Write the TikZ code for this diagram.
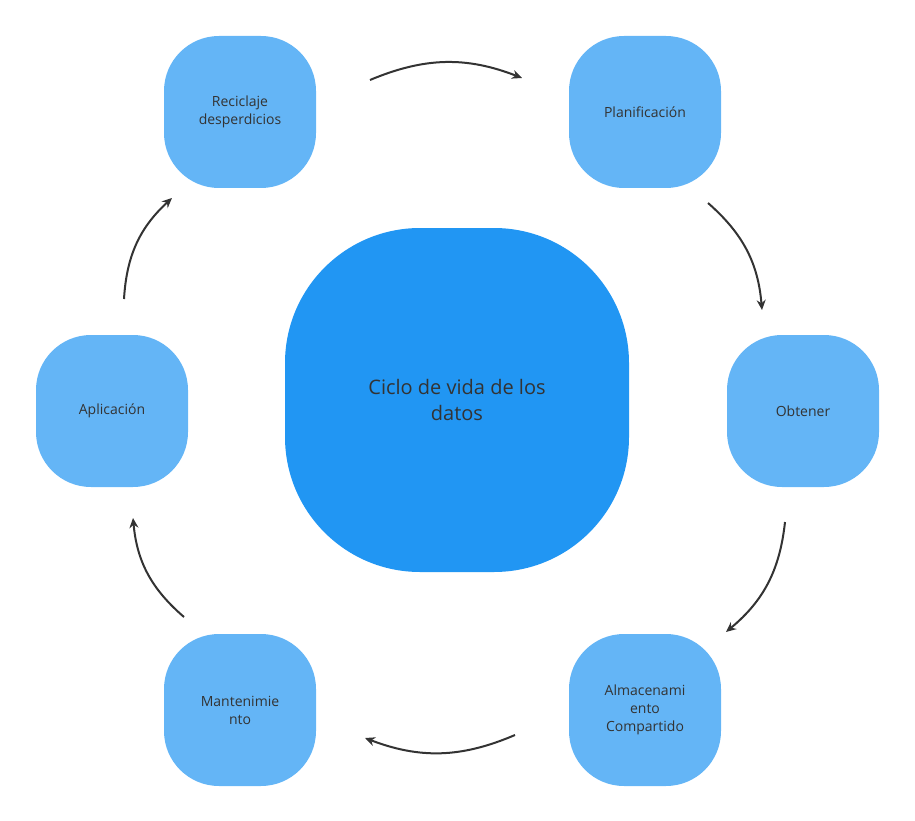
\documentclass[tikz,border=0pt]{standalone}
\usepackage{fontspec}
\setmainfont{Open Sans}
\usetikzlibrary{arrows.meta}
\definecolor{stepblue}{HTML}{64B5F6}
\definecolor{coreblue}{HTML}{2196F3}
\definecolor{arrowgray}{HTML}{333333}
\tikzset{
  phase/.style={
      fill=stepblue,
      rounded corners=55pt,
      minimum width=152pt,
      minimum height=152pt,
      align=center,
      text=arrowgray,
      font=\fontsize{14}{18}\selectfont
  },
  core/.style={
      phase,
      fill=coreblue,
      rounded corners=135pt,
      minimum width=344pt,
      minimum height=344pt,
      font=\fontsize{20}{26}\selectfont
  },
  flow/.style={
      draw=arrowgray,
      line width=2pt,
      -{Stealth[length=10pt,width=9pt]},
      bend left=22
  }
}
\begin{document}
\begin{tikzpicture}[x=1pt,y=-1pt]
\useasboundingbox (0,0) rectangle (915,821);
\node[core] (ciclo) at (457,400) {Ciclo de vida de los\\datos};
\node[phase] (reciclaje) at (240,112) {Reciclaje\\desperdicios};
\node[phase] (planif) at (645,112) {Planificación};
\node[phase] (obtener) at (803,411) {Obtener};
\node[phase] (almacen) at (645,710) {Almacenami\\ento\\Compartido};
\node[phase] (manten) at (240,710) {Mantenimie\\nto};
\node[phase] (aplic) at (112,411) {Aplicación};
% flechas del ciclo
\coordinate (a1) at (370,80);  \coordinate (b1) at (522,78);
\coordinate (a2) at (708,203); \coordinate (b2) at (762,310);
\coordinate (a3) at (785,522); \coordinate (b3) at (726,632);
\coordinate (a4) at (515,735); \coordinate (b4) at (365,738);
\coordinate (a5) at (184,617); \coordinate (b5) at (133,518);
\coordinate (a6) at (124,299); \coordinate (b6) at (172,198);
\foreach \i in {1,...,6}
  \draw[flow] (a\i) to (b\i);
\end{tikzpicture}
\end{document}
